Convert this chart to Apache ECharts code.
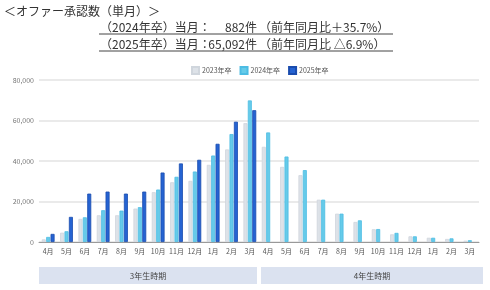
<!DOCTYPE html>
<html>
<head>
<meta charset="utf-8">
<script src="https://cdn.jsdelivr.net/npm/echarts@6/dist/echarts.min.js"></script>
<style>
html,body{margin:0;padding:0;background:#fff;}
#c{width:490px;height:290px;}
</style>
</head>
<body>
<div id="c"></div>
<script>
const categories = ['4月','5月','6月','7月','8月','9月','10月','11月','12月','1月','2月','3月',
                    '4月','5月','6月','7月','8月','9月','10月','11月','12月','1月','2月','3月'];
const seriesNames = ['2023年卒','2024年卒','2025年卒'];
const s2023 = [1300,4600,11400,13200,13200,16500,24600,29500,30200,38100,45700,58700,
               47000,37100,33000,20900,14000,9900,6300,3800,2800,2100,1500,650];
const s2024 = [2500,5300,12200,15700,15500,17200,25900,32200,34800,42700,53300,69916,
               54100,42200,35500,20900,14000,10700,6400,4500,2800,2100,1800,882];
const s2025 = [4000,12400,23900,24900,23900,24900,34300,38800,40600,48500,59400,65092,
               null,null,null,null,null,null,null,null,null,null,null,null];
const yTicks = [0,20000,40000,60000,80000];
const periodLabels = ['3年生時期','4年生時期'];
const titleText = '＜オファー承認数（単月）＞';
const subLines = [
  ['（2024年卒）当月：', '882件', '（前年同月比＋35.7%）'],
  ['（2025年卒）当月：', '65,092件', '（前年同月比 △6.9%）']
];

const font = '"Noto Sans CJK JP", "Noto Sans", sans-serif';
const chart = echarts.init(document.getElementById('c'), null, {renderer:'canvas'});

const graphics = [];
graphics.push({type:'text', left:4, top:5, style:{text:titleText, font:'12px '+font, fill:'#333'}});
const lineY = [21, 38];
subLines.forEach((ln, i) => {
  const y = lineY[i];
  graphics.push({type:'text', x:100, y:y, style:{text:ln[0], font:'12px '+font, fill:'#333', textAlign:'left'}});
  graphics.push({type:'text', x:257, y:y, style:{text:ln[1], font:'12px '+font, fill:'#333', textAlign:'right'}});
  graphics.push({type:'text', x:259, y:y, style:{text:ln[2], font:'12px '+font, fill:'#333', textAlign:'left'}});
  graphics.push({type:'line', shape:{x1:99, y1:y+13, x2:393, y2:y+13}, style:{stroke:'#444', lineWidth:1}});
});
const boxes = [[39,257],[261,483]];
boxes.forEach((b, i) => {
  graphics.push({type:'rect', shape:{x:b[0], y:267, width:b[1]-b[0], height:17}, style:{fill:'#dbe2f0'}});
  graphics.push({type:'text', x:(b[0]+b[1])/2, y:275.5, style:{text:periodLabels[i], font:'8px '+font, fill:'#444', textAlign:'center', textVerticalAlign:'middle'}});
});

const colors = ['#dde2e8','#66cbe9','#2563d2'];
const borders = ['#d0d6dd','#4cbce3','#1a4cae'];
const data = [s2023, s2024, s2025];

chart.setOption({
  animation:false,
  textStyle:{fontFamily:font},
  legend:{
    left:186, top:61, itemWidth:7, itemHeight:7, itemGap:8,
    icon:'rect',
    textStyle:{fontSize:7, color:'#555', padding:[0,0,0,-2]},
    data: seriesNames
  },
  grid:{left:39, right:11, top:80, bottom:48, containLabel:false},
  xAxis:{
    type:'category', data:categories,
    axisLine:{lineStyle:{color:'#999'}},
    axisTick:{show:false},
    axisLabel:{fontSize:7, color:'#555', interval:0, margin:6}
  },
  yAxis:{
    type:'value', min:0, max:80000, interval:20000,
    axisLabel:{fontSize:7, color:'#777', margin:5,
      formatter:v => yTicks.includes(v) ? v.toLocaleString('en-US') : ''},
    splitLine:{lineStyle:{color:'#e3e3e3', width:1.5}},
    axisLine:{show:false}, axisTick:{show:false}
  },
  series: seriesNames.map((n, i) => ({
    name:n, type:'bar', data:data[i],
    barWidth:4, barGap:'10%',
    itemStyle:{color:colors[i], borderColor:borders[i], borderWidth:0.8}
  })),
  graphic: graphics
});
</script>
</body>
</html>
